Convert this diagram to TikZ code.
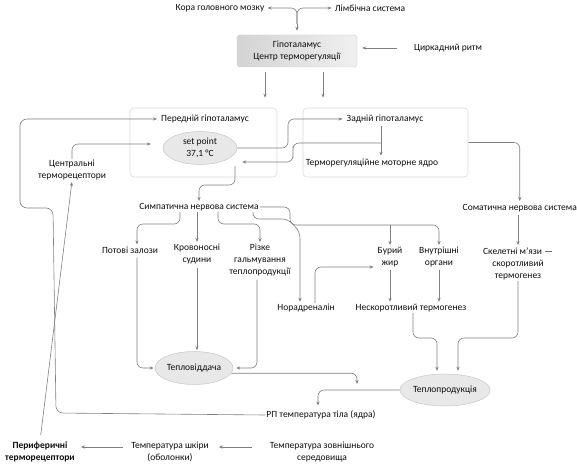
\documentclass[tikz,border=0pt]{standalone}
\usepackage{fontspec}
\setmainfont{Carlito}
\usetikzlibrary{arrows.meta,shapes.geometric}
\begin{document}
\begin{tikzpicture}[x=1pt,y=-1pt,
  every node/.style={font=\fontsize{9.5}{11.6}\selectfont, text=black!95, align=center, inner sep=1pt},
  ln/.style={draw=black!50, line width=0.6pt},
  arr/.style={ln, -{Stealth[length=4pt,width=3.2pt]}},
  rc/.style={rounded corners=6pt},
  bigbox/.style={draw=black!15, rounded corners=4pt, line width=0.6pt, inner sep=0pt},
  ell/.style={ellipse, draw=black!22, fill=black!9, inner sep=0pt, line width=0.5pt},
]
\useasboundingbox (0,0) rectangle (577,465);

% containers
\node[bigbox, minimum width=147pt, minimum height=69pt] (antbox) at (203.5,142.5) {};
\node[bigbox, minimum width=165pt, minimum height=69pt] (postbox) at (385.5,142.5) {};

% nodes
\node (kora) at (220,8) {Кора головного мозку};
\node (limb) at (370,8) {Лімбічна система};
\node[draw=black!20, left color=black!17, right color=black!6, rounded corners=3pt,
      minimum width=120pt, minimum height=32pt] (hyp) at (297,51) {Гіпоталамус\\Центр терморегуляції};
\node (cirk) at (448,48) {Циркадний ритм};
\node (antt) at (205,119) {Передній гіпоталамус};
\node[ell, minimum width=74pt, minimum height=33pt] (sp) at (200,148) {set point\\37,1 °C};
\node (post) at (385,119) {Задній гіпоталамус};
\node (motor) at (372,163) {Терморегуляційне моторне ядро};
\node (centr) at (72,170) {Центральні\\терморецептори};
\node (symp) at (199,207) {Симпатична нервова система};
\node[anchor=east] (soma) at (578,208) {Соматична нервова система};
\node (pot) at (130,250) {Потові залози};
\node (krov) at (197,254) {Кровоносні\\судини};
\node (rizke) at (260,260) {Різке\\гальмування\\теплопродукції};
\node (bur) at (390,257) {Бурий\\жир};
\node (vnut) at (439,257) {Внутрішні\\органи};
\node (skel) at (518,264) {Скелетні м’язи —\\скоротливий\\термогенез};
\node (nor) at (306,308) {Норадреналін};
\node (nesk) at (411,308) {Нескоротливий термогенез};
\node[ell, minimum width=78pt, minimum height=33pt] (tv) at (194,368) {Тепловіддача};
\node[ell, minimum width=86pt, minimum height=32pt] (tp) at (445,390) {Теплопродукція};
\node (rp) at (321,415) {РП температура тіла (ядра)};
\node[font=\fontsize{9.5}{11.6}\selectfont\bfseries] (periph) at (40,452) {Периферичні\\терморецептори};
\node (skin) at (170,452) {Температура шкіри\\(оболонки)};
\node (env) at (322,452) {Температура зовнішнього\\середовища};

% helper coordinates
\coordinate (jn) at (297,24);
\coordinate (xa) at (265,0);
\coordinate (xb) at (323,0);
\coordinate (xm) at (381,0);
\coordinate (xd) at (288,132);
\coordinate (fb0) at (381,143);
\coordinate (fb1) at (293,152);
\coordinate (s0) at (235,166);
\coordinate (s1) at (220,185);
\coordinate (xp) at (180,224);
\coordinate (xp2) at (137,0);
\coordinate (xr) at (218,224);
\coordinate (xr2) at (257,0);
\coordinate (bj) at (290,225);
\coordinate (n0) at (253,0);
\coordinate (xn) at (300,0);
\coordinate (xn2) at (315,0);
\coordinate (q1) at (413,338);
\coordinate (q2) at (518,338);
\coordinate (xt1) at (437,0);
\coordinate (xt2) at (458,0);
\coordinate (xrp) at (318,0);
\coordinate (tvend) at (357,384);

% top
\draw[arr, rc, shorten >=2pt] (jn) |- (kora.east);
\draw[arr, rc, shorten >=2pt] (jn) |- (limb.west);
\draw[arr, shorten >=4pt] (jn) -- (hyp.north);
\draw[arr, shorten <=16pt, shorten >=5pt] (cirk.west) -- (cirk.west -| hyp.east);
\draw[arr, shorten <=5pt, shorten >=10pt] (hyp.south -| xa) -- (antbox.north -| xa);
\draw[arr, shorten <=5pt, shorten >=10pt] (hyp.south -| xb) -- (postbox.north -| xb);

% hypothalamus internals
\draw[arr, rc, shorten >=12pt] (centr.north) |- ([yshift=4pt]sp.west);
\draw[arr, rc, shorten >=3pt] (sp.east) -| (xd) |- (post.west);
\draw[arr, shorten <=2pt, shorten >=2pt] (post.south -| xm) -- (motor.north -| xm);
\draw[arr, rc] (fb0) -| (fb1) |- ([xshift=5pt,yshift=-14pt]sp.east);
\draw[arr, rc, shorten >=1pt] (s0) |- (s1) -| (symp.north);
\draw[arr, rc, shorten >=2pt] (postbox.east) -| (soma.north);

% big feedback loop
\draw[arr, rounded corners=7pt, shorten >=3pt] (rp.west) -- (56,413) -- (53,208) -- (20,208) -- (20,119) -- (antt.west);
\draw[arr, shorten <=6pt, shorten >=1pt] (periph.north) -- (centr.south);

% sympathetic branches
\draw[arr, rc, shorten >=1pt] (symp.south -| xp) -- (xp) -| (pot.north -| xp2);
\draw[arr, shorten >=1pt] (symp.south -| krov.north) -- (krov.north);
\draw[arr, rc, shorten >=1pt] (symp.south -| xr) -- (xr) -| (rizke.north);
\draw[arr, rc, shorten >=1pt] (symp.east) -| (bj) -| (vnut.north);
\draw[arr, shorten >=1pt] (bj -| bur.north) -- (bur.north);
\draw[arr, rounded corners=6pt, shorten >=1pt] (symp.south -| n0) -- (253,219) -- (288,219) -- (300,232) -- (nor.north -| xn);
\draw[arr, rc, shorten >=3pt] (nor.north -| xn2) |- ([yshift=-10pt]bur.west);
\draw[arr, shorten <=2pt, shorten >=1pt] (bur.south) -- (nesk.north -| bur.south);
\draw[arr, shorten <=2pt, shorten >=1pt] (vnut.south) -- (nesk.north -| vnut.south);
\draw[arr, shorten <=2pt, shorten >=2pt] (soma.south -| skel.north) -- (skel.north);

% to heat production / loss
\draw[arr, rc, shorten >=3pt] (nesk.south -| q1) -- (q1) -| (tp.north -| xt1);
\draw[arr, rc, shorten >=3pt] (skel.south) -- (q2) -| (tp.north -| xt2);
\draw[arr, rc, shorten <=3pt, shorten >=1pt] (pot.south -| xp2) |- (tv.west);
\draw[arr, shorten <=3pt, shorten >=1pt] (krov.south) -- (tv.north -| krov.south);
\draw[arr, rc, shorten <=3pt, shorten >=3pt] (rizke.south -| xr2) |- (tv.east);
\draw[arr, rc] (tv.-8) -| (tvend);
\draw[arr, rc, shorten >=4pt] (tp.west) -| (rp.north -| xrp);

% bottom row
\draw[arr, shorten <=7pt, shorten >=5pt] ([yshift=5pt]skin.west) -- ([yshift=5pt]skin.west -| periph.east);
\draw[arr, shorten <=17pt, shorten >=9pt] ([yshift=5pt]env.west) -- ([yshift=5pt]env.west -| skin.east);
\end{tikzpicture}
\end{document}
